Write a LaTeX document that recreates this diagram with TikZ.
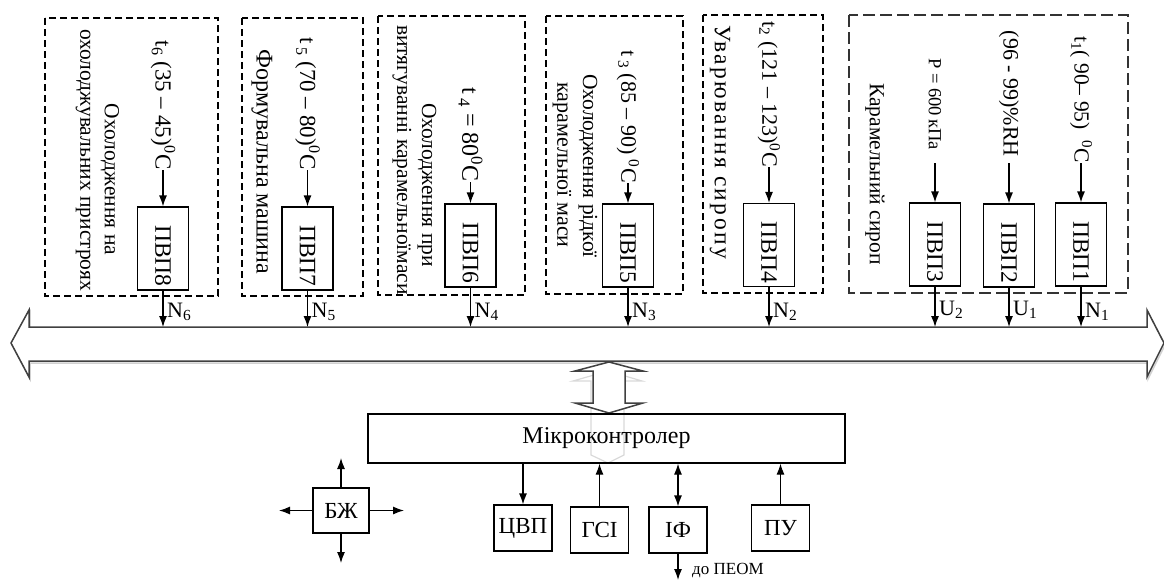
\documentclass[tikz,border=0pt]{standalone}
\usepackage{fontspec}
\setmainfont{Liberation Serif}
\newfontfamily\lsfont[LetterSpace=10]{Liberation Serif}
\usepackage{graphicx}
\usetikzlibrary{arrows.meta}
\newcommand\fsz[1]{\fontsize{#1}{#1}\selectfont}
\begin{document}
\begin{tikzpicture}[x=1pt,y=-1pt,
  pvp/.style={draw, line width=1.2pt, minimum width=51pt, minimum height=83pt, inner sep=0pt},
  pvptxt/.style={rotate=-90, anchor=east, inner sep=0pt, font=\fsz{23.5}},
  param/.style={rotate=-90, anchor=east, inner sep=0pt, font=\fsz{22}},
  desc/.style={rotate=-90, inner sep=0pt, font=\fsz{21.5}},
  dbox/.style={line width=2pt, dash pattern=on 7pt off 4pt},
  dboxlight/.style={line width=1.2pt, dash pattern=on 12pt off 5pt, draw=black!80},
  arr/.style={line width=1.2pt, -{Latex[length=11pt,width=8pt]}},
  darr/.style={line width=1.2pt, {Latex[length=11pt,width=8pt]}-{Latex[length=11pt,width=8pt]}},
  nlab/.style={anchor=west, inner sep=0pt, font=\fsz{22}},
  sbox/.style={draw, line width=1.2pt, minimum width=58pt, minimum height=46pt, inner sep=0pt, font=\fsz{23}},
  hollow/.style={draw=black!75, line width=1.5pt, fill=white, line join=miter},
  shadowline/.style={draw=black!18, line width=1.5pt},
  ghost/.style={draw=black!15, line width=1.2pt}
]
\useasboundingbox (0,0) rectangle (1164,581);

% dashed groups
\draw[dbox] (45,18) rectangle (218,296);
\draw[dbox] (242,18) rectangle (363,296);
\draw[dbox] (378,16) rectangle (525,295);
\draw[dbox] (546,16) rectangle (683,294);
\draw[dbox] (703,15) rectangle (823,293);
\draw[dboxlight] (849,15) rectangle (1128,293);

% bus
\draw[shadowline, shift={(1,2)}] (11,343) -- (29,310) -- (29,327) -- (1147,327) -- (1147,310) -- (1164,343) -- (1147,377) -- (1147,361) -- (29,361) -- (29,377) -- cycle;
\path[hollow] (11,343) -- (29,310) -- (29,327) -- (1147,327) -- (1147,310) -- (1164,343) -- (1147,377) -- (1147,361) -- (29,361) -- (29,377) -- cycle;
\coordinate (bustop) at (0,327);

% transducer boxes
\node[pvp] (b8) at (163,248.5) {};
\node[pvp] (b7) at (307.5,248.5) {};
\node[pvp] (b6) at (470.5,245.5) {};
\node[pvp] (b5) at (628,245.5) {};
\node[pvp] (b4) at (769,245) {};
\node[pvp] (b3) at (935,244.5) {};
\node[pvp] (b2) at (1009,245.5) {};
\node[pvp] (b1) at (1081,244.5) {};

\node[pvptxt] (l8) at ([yshift=4pt]b8.south) {ПВП8};
\node[pvptxt] (l7) at ([yshift=4pt]b7.south) {ПВП7};
\node[pvptxt] (l6) at ([yshift=4pt]b6.south) {ПВП6};
\node[pvptxt] (l5) at ([yshift=4pt]b5.south) {ПВП5};
\node[pvptxt] (l4) at ([yshift=4pt]b4.south) {ПВП4};
\node[pvptxt] (l3) at ([yshift=4pt]b3.south) {ПВП3};
\node[pvptxt] (l2) at ([yshift=4pt]b2.south) {ПВП2};
\node[pvptxt] (l1) at ([yshift=4pt]b1.south) {ПВП1};

% parameters
\node[param, font=\fsz{23}] (p8) at (163,170) {t\textsubscript{6} (35 – 45)\textsuperscript{0}C};
\node[param, font=\fsz{23}] (p7) at (307.5,170) {t\,\textsubscript{5} (70 – 80)\textsuperscript{0}C};
\node[param, font=\fsz{24}] (p6) at (470.5,182) {t\,\textsubscript{4} = 80\textsuperscript{0}C};
\node[param] (p5) at (628,183) {t\,\textsubscript{3} (85 – 90) \textsuperscript{0}C};
\node[param] (p4) at (769,167) {t\textsubscript{2} (121 – 123)\textsuperscript{0}C};
\node[param, font=\fsz{18.5}] (p3) at (935,150) {P = 600\,кПа};
\node[param] (p2) at (1009,157) {(96 - 99)\%RH};
\node[param, font=\fsz{21.5}] (p1) at (1081,163) {t\textsubscript{1}( 90– 95)\ \ \textsuperscript{0}C};

\draw[arr] (b8.north |- p8.east) -- (b8.north);
\draw[arr] (b7.north |- p7.east) -- (b7.north);
\draw[arr] (b6.north |- p6.east) -- (b6.north);
\draw[arr] (b5.north |- p5.east) -- (b5.north);
\draw[arr] (b4.north |- p4.east) -- (b4.north);
\draw[arr] (b3.north |- p1.east) -- (b3.north);
\draw[arr] (b2.north |- p1.east) -- (b2.north);
\draw[arr] (b1.north |- p1.east) -- (b1.north);

% descriptions
\node[desc] (d8a) at (110,179.5) {Охолодження на};
\node[desc] (d8b) at (83,160) {охолоджувальних пристроях};
\node[desc, font=\fsz{24}] (d7) at (262,162) {Формувальна машина};
\node[desc] (d6a) at (427,185) {Охолодження при};
\node[desc] (d6b) at (402,160) {витягуванні карамельноїмаси};
\node[desc] (d5a) at (588,166) {Охолодження рідкої};
\node[desc, font=\fsz{22}] (d5b) at (562,165) {карамельної маси};
\node[desc, font=\lsfont\fsz{23.5}] (d4) at (720,142) {Уварювання сиропу};
\node[desc] (d0) at (875,174) {Карамельний сироп};

% outputs to bus
\draw[arr] (b8.south) -- (b8.south |- bustop);
\draw[arr] (b7.south) -- (b7.south |- bustop);
\draw[arr] (b6.south) -- (b6.south |- bustop);
\draw[arr] (b5.south) -- (b5.south |- bustop);
\draw[arr] (b4.south) -- (b4.south |- bustop);
\draw[arr] (b3.south) -- (b3.south |- bustop);
\draw[arr] (b2.south) -- (b2.south |- bustop);
\draw[arr] (b1.south) -- (b1.south |- bustop);
\node[nlab] (n8) at (167,312) {N\textsubscript{6}};
\node[nlab] (n7) at (311.5,312) {N\textsubscript{5}};
\node[nlab] (n6) at (474.5,312) {N\textsubscript{4}};
\node[nlab] (n5) at (632,312) {N\textsubscript{3}};
\node[nlab] (n4) at (773,312) {N\textsubscript{2}};
\node[nlab] (n3) at (939,310) {U\textsubscript{2}};
\node[nlab] (n2) at (1013,310) {U\textsubscript{1}};
\node[nlab] (n1) at (1085,312) {N\textsubscript{1}};

% bus <-> microcontroller
\draw[ghost] (573,381) -- (608,371) -- (642,381) -- (624,381) -- (624,455) -- (608,463) -- (591,455) -- (591,381) -- cycle;
\path[hollow] (609,362) -- (643,371) -- (625,371) -- (625,403) -- (643,403) -- (609,413) -- (575,403) -- (593,403) -- (593,371) -- (575,371) -- cycle;

\node[draw, line width=1.2pt, minimum width=477pt, minimum height=49pt, inner sep=0pt, font=\fsz{24}] (mc) at (606.5,438.5) {Мікроконтролер};

% peripheral blocks
\node[sbox, minimum width=56pt, minimum height=45pt] (bzh) at (341,510.5) {БЖ};
\node[sbox] (cvp) at (523,528) {ЦВП};
\node[sbox] (gsi) at (599.5,530) {ГСІ};
\node[sbox] (ifc) at (678,530) {ІФ};
\node[sbox] (pu) at (780.5,528) {ПУ};

\coordinate (bzhU) at (341,458);
\coordinate (bzhD) at (341,563);
\coordinate (bzhL) at (279,510.5);
\coordinate (bzhR) at (404,510.5);
\draw[arr] (bzh.north) -- (bzhU);
\draw[arr] (bzh.south) -- (bzhD);
\draw[arr] (bzh.west) -- (bzhL);
\draw[arr] (bzh.east) -- (bzhR);

\draw[arr] (mc.south -| cvp.north) -- (cvp.north);
\draw[arr] (gsi.north) -- (gsi.north |- mc.south);
\draw[darr] (ifc.north) -- (ifc.north |- mc.south);
\draw[arr] (pu.north) -- (pu.north |- mc.south);
\coordinate (peom) at (678,580);
\draw[arr] (ifc.south) -- (peom);
\node[anchor=west, inner sep=0pt, font=\fsz{17}] (peomlab) at (692,571) {до ПЕОМ};
\end{tikzpicture}
\end{document}
